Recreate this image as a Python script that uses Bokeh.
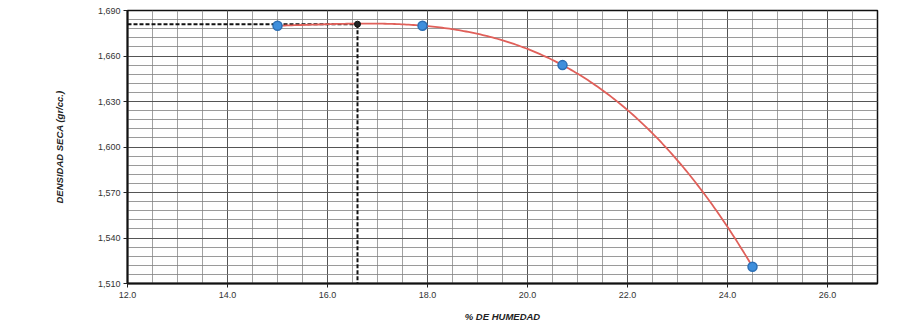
import numpy as np
from bokeh.plotting import figure
from bokeh.models import FixedTicker, CustomJSTickFormatter, Range1d
from bokeh.embed import file_html
from bokeh.resources import INLINE

# ---- data ----
HUMEDAD = [15.0, 17.9, 20.7, 24.5]          # % de humedad
DENSIDAD = [1.680, 1.680, 1.654, 1.521]     # densidad seca (gr/cc)
OPT_HUMEDAD = 16.6                          # optimo contenido de humedad
MAX_DENSIDAD = 1.681                        # maxima densidad seca
X_TICKS = [12.0, 14.0, 16.0, 18.0, 20.0, 22.0, 24.0, 26.0]
Y_TICKS = [1.510, 1.540, 1.570, 1.600, 1.630, 1.660, 1.690]
X_MINOR_STEP = 0.5
Y_MINOR_STEP = 0.006
X_LABEL = "% DE HUMEDAD"
Y_LABEL = "DENSIDAD SECA (gr/cc.)"

X_MIN, X_MAX = 12.0, 27.0
Y_MIN, Y_MAX = 1.510, 1.690

FONT = "Liberation Sans"

p = figure(width=922, height=326, output_backend="svg", toolbar_location=None,
           x_range=Range1d(X_MIN, X_MAX), y_range=Range1d(Y_MIN, Y_MAX),
           min_border_left=127, min_border_right=45, min_border_top=10,
           min_border_bottom=43)
p.background_fill_color = "#ffffff"
p.border_fill_color = "#ffffff"
p.outline_line_color = "#111111"
p.outline_line_width = 1.5

x_minor = list(np.arange(X_MIN, X_MAX + 1e-9, X_MINOR_STEP))
y_minor = [Y_MIN + i * Y_MINOR_STEP for i in range(int(round((Y_MAX - Y_MIN) / Y_MINOR_STEP)) + 1)]

p.xaxis.ticker = FixedTicker(ticks=X_TICKS, minor_ticks=x_minor)
p.yaxis.ticker = FixedTicker(ticks=Y_TICKS, minor_ticks=y_minor)
p.xaxis.formatter = CustomJSTickFormatter(code="return tick.toFixed(1);")
p.yaxis.formatter = CustomJSTickFormatter(code="return tick.toFixed(3).replace('.', ',');")

for ax in (p.xaxis, p.yaxis):
    ax.axis_line_color = "#111111"
    ax.axis_line_width = 2
    ax.major_tick_line_color = "#222222"
    ax.major_tick_out = 4
    ax.major_tick_in = 0
    ax.minor_tick_line_color = None
    ax.major_label_text_font = FONT
    ax.major_label_text_font_size = "9px"
    ax.major_label_text_color = "#333333"
    ax.axis_label_text_font = FONT
    ax.axis_label_text_font_size = "9.5px"
    ax.axis_label_text_font_style = "bold italic"
    ax.axis_label_text_color = "#222222"
p.xaxis.major_label_standoff = 4
p.yaxis.major_label_standoff = 3
p.xaxis.axis_label = X_LABEL
p.yaxis.axis_label = Y_LABEL
p.xaxis.axis_label_standoff = 10
p.yaxis.axis_label_standoff = 30

p.xgrid.grid_line_color = "#555555"
p.xgrid.grid_line_width = 1
p.xgrid.minor_grid_line_color = "#8a8a8a"
p.xgrid.minor_grid_line_width = 0.8
p.ygrid.grid_line_color = "#555555"
p.ygrid.grid_line_width = 1
p.ygrid.minor_grid_line_color = "#808080"
p.ygrid.minor_grid_line_width = 0.8

# dashed lines to the optimum
p.line([X_MIN, OPT_HUMEDAD], [MAX_DENSIDAD, MAX_DENSIDAD], line_color="#111111",
       line_width=2, line_dash="4 2")
p.line([OPT_HUMEDAD, OPT_HUMEDAD], [MAX_DENSIDAD, Y_MIN], line_color="#111111",
       line_width=2, line_dash="4 2")

# polynomial trend line through the compaction points
coef = np.polyfit(HUMEDAD, DENSIDAD, 3)
xs = np.linspace(HUMEDAD[0], HUMEDAD[-1], 200)
p.line(xs, np.polyval(coef, xs), line_color="#e0605a", line_width=1.8)

p.scatter(HUMEDAD, DENSIDAD, size=9, fill_color="#3f8fdc", line_color="#2c6fb5",
          line_width=1.5)
p.scatter([OPT_HUMEDAD], [MAX_DENSIDAD], size=6, fill_color="#222222",
          line_color="#111111")

open("out.html", "w").write(file_html(p, INLINE))
